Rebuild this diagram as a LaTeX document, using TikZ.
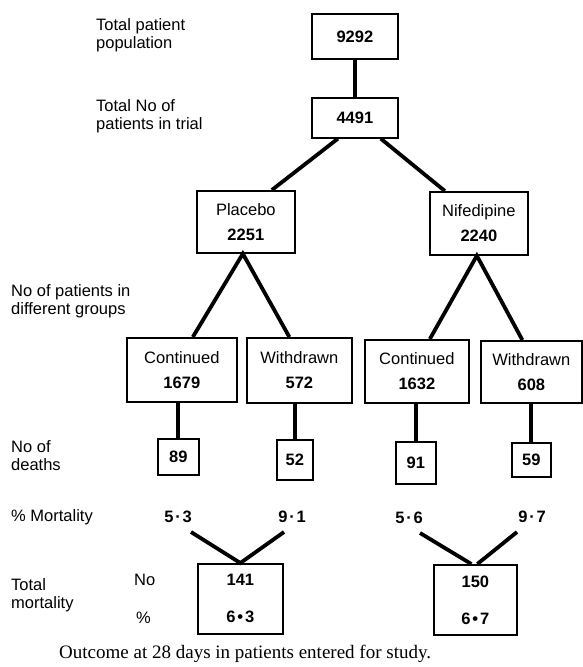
\documentclass[tikz,border=0pt]{standalone}
\usepackage{fontspec}
\setmainfont{Liberation Sans}
\newfontfamily\capfont{Liberation Serif}
\newcommand\lblfont{\fontsize{16.5}{18.5}\selectfont}
\newcommand\boxfont{\fontsize{16.5}{25}\selectfont}
\newcommand\dotsp{\hspace{1.8pt}}
\begin{document}
\begin{tikzpicture}[x=1pt,y=-1pt,
  box/.style={draw, line width=1.7pt, inner sep=0pt, anchor=north west, align=center, font=\boxfont},
  conn/.style={line width=3.8pt, line join=miter},
  lab/.style={anchor=north west, inner sep=0pt, align=left, font=\lblfont},
  sidelab/.style={anchor=base west, inner sep=0pt, font=\lblfont},
  mort/.style={anchor=base, inner sep=0pt, font=\lblfont\bfseries}]
\useasboundingbox (0,0) rectangle (583,667);

% boxes
\node[box, minimum width=86pt, minimum height=45pt] (n9292) at (311,13) {\textbf{9292}};
\node[box, minimum width=86pt, minimum height=40pt] (n4491) at (311,97) {\textbf{4491}};
\node[box, minimum width=98pt, minimum height=62pt] (plac) at (196,190) {Placebo\\\textbf{2251}};
\node[box, minimum width=98pt, minimum height=63pt] (nif) at (429,191) {Nifedipine\\\textbf{2240}};
\node[box, minimum width=110pt, minimum height=64pt] (contP) at (126,337) {Continued\\\textbf{1679}};
\node[box, minimum width=105pt, minimum height=65pt] (withP) at (246,337) {Withdrawn\\\textbf{572}};
\node[box, minimum width=104pt, minimum height=63pt] (contN) at (364,339) {Continued\\\textbf{1632}};
\node[box, minimum width=101pt, minimum height=62pt] (withN) at (480,340) {Withdrawn\\\textbf{608}};
\node[box, minimum width=41pt, minimum height=36pt] (d89) at (157,438) {\textbf{89}};
\node[box, minimum width=36pt, minimum height=40pt] (d52) at (276,439) {\textbf{52}};
\node[box, minimum width=40pt, minimum height=42pt] (d91) at (395,441) {\textbf{91}};
\node[box, minimum width=39pt, minimum height=34pt] (d59) at (511,442) {\textbf{59}};
\node[box, minimum width=85pt, minimum height=70pt, font=\fontsize{16.5}{37}\selectfont] (totL) at (197,563) {\textbf{141}\\\textbf{6\dotsp•\dotsp3}};
\node[box, minimum width=83pt, minimum height=70pt, font=\fontsize{16.5}{37}\selectfont] (totR) at (433,564) {\textbf{150}\\\textbf{6\dotsp•\dotsp7}};

% mortality values
\node[mort] (m53) at (178,522) {5\dotsp·\dotsp3};
\node[mort] (m91) at (292,522) {9\dotsp·\dotsp1};
\node[mort] (m56) at (409,523) {5\dotsp·\dotsp6};
\node[mort] (m97) at (532,522) {9\dotsp·\dotsp7};

% connectors
\draw[conn] (n9292.south) -- (n4491.north);
\draw[conn] ([xshift=-17pt]n4491.south) -- ([xshift=26pt]plac.north);
\draw[conn] ([xshift=26pt]n4491.south) -- ([xshift=-34pt]nif.north);
\draw[conn] ([xshift=11pt]contP.north) -- ([xshift=-3pt]plac.south) -- ([xshift=-10pt]withP.north);
\draw[conn] ([xshift=13pt]contN.north) -- ([xshift=-2pt]nif.south) -- ([xshift=-9pt]withN.north);
\draw[conn] (d89.north) -- (d89.north |- contP.south);
\draw[conn] (d52.north) -- (d52.north |- withP.south);
\draw[conn] (d91.north) -- (d91.north |- contN.south);
\draw[conn] (d59.north) -- (d59.north |- withN.south);
\draw[conn] ([shift={(13,10)}]m53.base) -- ([xshift=0pt]totL.north) -- ([shift={(-8,10)}]m91.base);
\draw[conn] ([shift={(11,10)}]m56.base) -- ([xshift=-4pt]totR.north);
\draw[conn] ([shift={(-15,10)}]m97.base) -- ([xshift=2pt]totR.north);

% left labels
\node[lab] (l1) at (96,18) {Total patient\\population};
\node[lab] (l2) at (96,99) {Total No of\\patients in trial};
\node[lab] (l3) at (11,284) {No of patients in\\different groups};
\node[lab] (l4) at (11,440) {No of\\deaths};
\node[lab] (l5) at (11,509) {\% Mortality};
\node[lab] (l6) at (11,578) {Total\\mortality};
\node[sidelab] (lno) at (134,585) {No};
\node[sidelab] (lpc) at (136,623) {\%};

% caption
\node[anchor=base west, inner sep=0pt, font=\capfont\fontsize{19}{22}\selectfont] (cap) at (59,658) {Outcome at 28 days in patients entered for study.};
\end{tikzpicture}
\end{document}
